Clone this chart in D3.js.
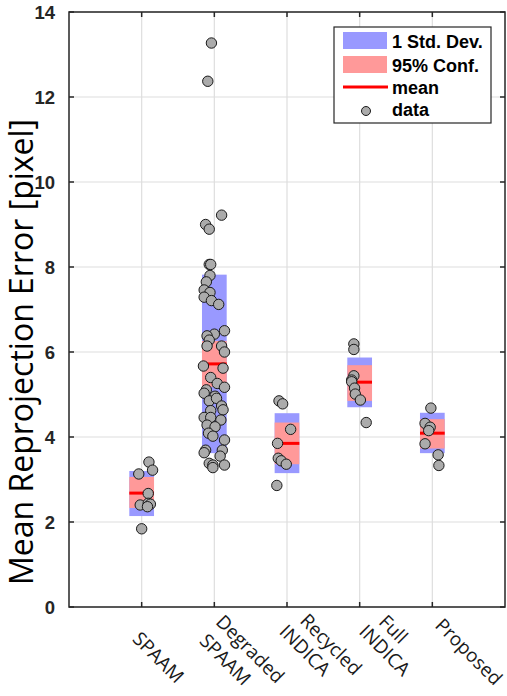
<!DOCTYPE html>
<html>
<head>
<meta charset="utf-8">
<script src="https://cdn.jsdelivr.net/npm/d3@7"></script>
<style>
  html, body { margin: 0; padding: 0; background: #ffffff; }
  svg { display: block; }
</style>
</head>
<body>
<svg id="chart" width="507" height="696"></svg>
<script>
// ---------------- data ----------------
const categories = [
  ["SPAAM"],
  ["Degraded", "SPAAM"],
  ["Recycled", "INDICA"],
  ["Full", "INDICA"],
  ["Proposed"]
];
const means   = [2.68, 5.72, 3.85, 5.29, 4.09];
const sdLow   = [2.14, 3.62, 3.15, 4.70, 3.62];
const sdHigh  = [3.20, 7.82, 4.56, 5.87, 4.57];
const ciLow   = [2.33, 5.18, 3.36, 4.85, 3.73];
const ciHigh  = [3.06, 6.26, 4.34, 5.69, 4.42];

// individual data values (y) and their horizontal jitter (in category units)
const spaamVals     = [3.41, 3.22, 3.13, 2.67, 2.40, 2.44, 2.42, 2.36, 1.84];
const spaamJitter   = [0.10, 0.15, -0.04, 0.09, -0.02, 0.09, 0.12, 0.08, 0.00];
const degradedVals  = [13.27, 12.37, 9.22, 9.00, 8.89, 8.06, 8.06, 7.80, 7.65, 7.46, 7.40, 7.29, 7.21, 7.12,
                       6.50, 6.42, 6.38, 6.28, 6.14, 6.14, 6.00, 5.67, 5.62, 5.40, 5.26, 5.17, 5.11, 5.03,
                       4.96, 4.85, 4.91, 4.73, 4.64, 4.62, 4.46, 4.46, 4.40, 4.28, 4.24, 4.09, 4.02, 3.93,
                       3.69, 3.63, 3.69, 3.55, 3.38, 3.34, 3.28, 3.34];
const degradedJitter = [-0.04, -0.09, 0.10, -0.12, -0.07, -0.07, -0.05, -0.06, -0.11, -0.14, -0.06, -0.14, -0.04, 0.06,
                        0.14, 0.00, -0.10, -0.07, -0.10, 0.10, 0.14, -0.15, 0.12, -0.05, 0.04, 0.14, -0.11, -0.14,
                        0.01, -0.07, 0.03, 0.10, 0.12, -0.05, -0.14, -0.05, 0.09, -0.10, 0.01, -0.08, -0.02, 0.14,
                        -0.12, -0.14, 0.11, 0.08, -0.07, -0.02, -0.02, 0.14];
const recycledVals   = [4.85, 4.78, 4.18, 3.85, 3.50, 3.44, 3.36, 2.86];
const recycledJitter = [-0.11, -0.06, 0.05, -0.13, -0.12, -0.08, -0.01, -0.14];
const fullVals       = [6.19, 6.06, 5.44, 5.34, 5.30, 5.15, 5.01, 4.87, 4.34];
const fullJitter     = [-0.08, -0.08, -0.08, -0.11, -0.11, -0.07, -0.06, 0.01, 0.09];
const proposedVals   = [4.68, 4.32, 4.23, 4.15, 3.84, 3.58, 3.33];
const proposedJitter = [-0.02, -0.10, -0.03, -0.05, -0.10, 0.08, 0.09];

const groupVals   = [spaamVals, degradedVals, recycledVals, fullVals, proposedVals];
const groupJitter = [spaamJitter, degradedJitter, recycledJitter, fullJitter, proposedJitter];

const yTicks = [0, 2, 4, 6, 8, 10, 12, 14];
const legendLabels = ["1 Std. Dev.", "95% Conf.", "mean", "data"];
const yLabel = "Mean Reprojection Error [pixel]";

// ---------------- layout ----------------
const svg = d3.select("#chart");
const L = 69, R = 505, T = 12, B = 607;
const x = d3.scaleLinear().domain([0, 6]).range([L, R]);
const y = d3.scaleLinear().domain([0, 14]).range([B, T]);
const halfW = 0.17;

const cBlue = "#9999ff", cRed = "#ff9999", cMean = "#ff0000";
const axisColor = "#262626", gridColor = "#dedede";

// grid
const g = svg.append("g");
g.selectAll(".gy").data(yTicks).join("line")
  .attr("x1", L).attr("x2", R)
  .attr("y1", d => y(d)).attr("y2", d => y(d))
  .attr("stroke", gridColor).attr("stroke-width", 1.2);
g.selectAll(".gx").data(d3.range(1, 6)).join("line")
  .attr("x1", d => x(d)).attr("x2", d => x(d))
  .attr("y1", T).attr("y2", B)
  .attr("stroke", gridColor).attr("stroke-width", 1.2);

// boxes
const idx = d3.range(categories.length);
svg.append("g").selectAll("rect").data(idx).join("rect")
  .attr("x", i => x(i + 1 - halfW)).attr("width", i => x(i + 1 + halfW) - x(i + 1 - halfW))
  .attr("y", i => y(sdHigh[i])).attr("height", i => y(sdLow[i]) - y(sdHigh[i]))
  .attr("fill", cBlue);
svg.append("g").selectAll("rect").data(idx).join("rect")
  .attr("x", i => x(i + 1 - halfW)).attr("width", i => x(i + 1 + halfW) - x(i + 1 - halfW))
  .attr("y", i => y(ciHigh[i])).attr("height", i => y(ciLow[i]) - y(ciHigh[i]))
  .attr("fill", cRed);
svg.append("g").selectAll("line").data(idx).join("line")
  .attr("x1", i => x(i + 1 - halfW)).attr("x2", i => x(i + 1 + halfW))
  .attr("y1", i => y(means[i])).attr("y2", i => y(means[i]))
  .attr("stroke", cMean).attr("stroke-width", 3);

// points
const pts = [];
groupVals.forEach((vals, i) => vals.forEach((v, j) => pts.push({ cx: i + 1 + groupJitter[i][j], v })));
svg.append("g").selectAll("circle").data(pts).join("circle")
  .attr("cx", d => x(d.cx)).attr("cy", d => y(d.v)).attr("r", 5.2)
  .attr("fill", "#ababab").attr("stroke", "#1a1a1a").attr("stroke-width", 1);

// axes box
svg.append("rect").attr("x", L).attr("y", T).attr("width", R - L).attr("height", B - T)
  .attr("fill", "none").attr("stroke", axisColor).attr("stroke-width", 1.5);

// ticks (inward)
const tk = svg.append("g").attr("stroke", axisColor).attr("stroke-width", 1.5);
yTicks.forEach(v => {
  tk.append("line").attr("x1", L).attr("x2", L + 5).attr("y1", y(v)).attr("y2", y(v));
  tk.append("line").attr("x1", R).attr("x2", R - 5).attr("y1", y(v)).attr("y2", y(v));
});
d3.range(1, 6).forEach(v => {
  tk.append("line").attr("x1", x(v)).attr("x2", x(v)).attr("y1", B).attr("y2", B - 5);
  tk.append("line").attr("x1", x(v)).attr("x2", x(v)).attr("y1", T).attr("y2", T + 5);
});

// y tick labels
svg.append("g").selectAll("text").data(yTicks).join("text")
  .attr("x", L - 14).attr("y", d => y(d)).attr("dy", "0.36em")
  .attr("text-anchor", "end")
  .attr("font-family", "Liberation Sans, Arial, sans-serif").attr("font-weight", "bold")
  .attr("font-size", 18.5).attr("fill", axisColor)
  .text(d => d);

// x tick labels (rotated 45°): per line [along-text, across-text] baseline offsets
const lineOffsets = [
  [[16, 30.5]],
  [[11.5, 11], [13.5, 36]],
  [[19, 2], [12, 24.5]],
  [[24, -1.5], [17, 19.5]],
  [[15, 12.5]]
];
categories.forEach((lines, i) => {
  const t = svg.append("text")
    .attr("transform", `translate(${x(i + 1)},${B}) rotate(45)`)
    .attr("font-family", "Open Sans, Noto Sans, sans-serif").attr("font-size", 19)
    .attr("fill", "#1a1a1a");
  lines.forEach((s, k) => {
    t.append("tspan").attr("x", lineOffsets[i][k][0]).attr("y", lineOffsets[i][k][1]).text(s);
  });
});

// y axis label
svg.append("text")
  .attr("transform", `translate(33,352) rotate(-90)`)
  .attr("text-anchor", "middle")
  .attr("font-family", "Open Sans, Noto Sans, sans-serif").attr("font-size", 32)
  .attr("fill", "#000")
  .text(yLabel);

// legend
const lg = svg.append("g");
lg.append("rect").attr("x", 334).attr("y", 27).attr("width", 157).attr("height", 96)
  .attr("fill", "#fff").attr("stroke", axisColor).attr("stroke-width", 1.2);
lg.append("rect").attr("x", 343).attr("y", 32).attr("width", 44).attr("height", 17).attr("fill", cBlue);
lg.append("rect").attr("x", 343).attr("y", 56).attr("width", 44).attr("height", 17).attr("fill", cRed);
lg.append("line").attr("x1", 343).attr("x2", 388).attr("y1", 87).attr("y2", 87)
  .attr("stroke", cMean).attr("stroke-width", 3);
lg.append("circle").attr("cx", 366).attr("cy", 111).attr("r", 4.5)
  .attr("fill", "#ababab").attr("stroke", "#1a1a1a").attr("stroke-width", 1);
const lgY = [48, 72, 94, 116];
lg.selectAll("text.lt").data(legendLabels).join("text")
  .attr("x", 392).attr("y", (d, i) => lgY[i])
  .attr("font-family", "Liberation Sans, Arial, sans-serif").attr("font-weight", "bold")
  .attr("font-size", 18).attr("fill", "#000")
  .text(d => d);
</script>
</body>
</html>
